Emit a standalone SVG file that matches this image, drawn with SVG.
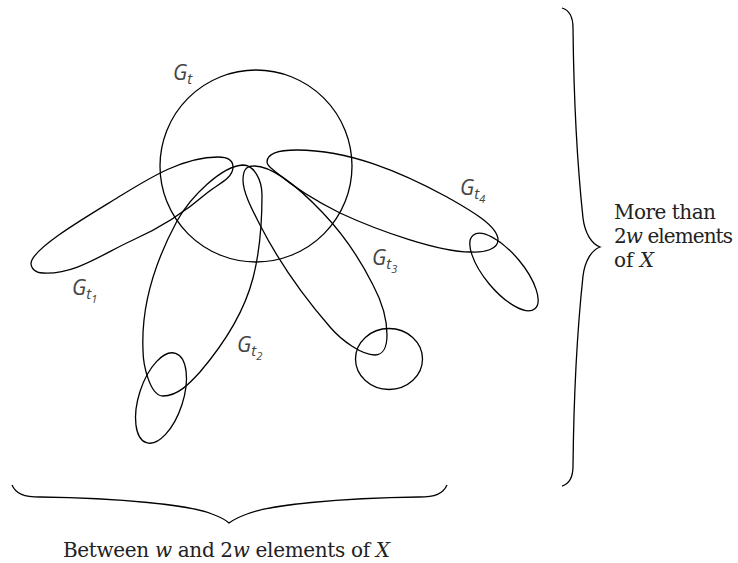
<svg xmlns="http://www.w3.org/2000/svg" width="738" height="563" viewBox="0 0 738 563">
<style>
.ln{fill:none;stroke:#000;stroke-width:1.3}
.lab{font-family:"Open Sans","DejaVu Sans",sans-serif;font-style:italic;font-size:21px;fill:#444}
.txt{font-family:"DejaVu Serif","Liberation Serif",serif;font-size:20px;fill:#222}
.it{font-style:italic}
</style>
<rect width="738" height="563" fill="#fff"/>
<g id="Gt">
<circle class="ln" cx="256" cy="166" r="96"/>
<text class="lab" x="173" y="80">G<tspan font-size="15" dy="4">t</tspan></text>
</g>
<g id="Gt1">
<path class="ln" d="M31,263 C33,248 86,217 117,198 C148,179 182,157 218,157 C227,157 233,160 233,167 C233,179 216,185 207,193 C185,212 160,228 133,240 C104,253 75,275 43,273 C36,273 31,269 31,263 Z"/>
<text class="lab" x="72" y="295">G<tspan font-size="15" dy="4">t</tspan><tspan font-size="11" dy="4">1</tspan></text>
</g>
<g id="Gt2">
<path class="ln" d="M243,165 C254,165 262,180 262,195 C262,223 260,251 253,278 C244,313 223,345 200,372 C190,383 178,396 163,396 C150,396 143,365 143,350 C141,306 156,260 177,221 C191,196 222,166 243,165 Z"/>
<ellipse class="ln" cx="161" cy="398" rx="22" ry="47" transform="rotate(18 161 398)"/>
<text class="lab" x="237" y="352">G<tspan font-size="15" dy="4">t</tspan><tspan font-size="11" dy="4">2</tspan></text>
</g>
<g id="Gt3">
<path class="ln" d="M253,166 C275,165 304,193 323,213 C343,234 360,259 373,285 C381,300 387,318 387,335 C387,347 383,355 375,355 C362,355 342,341 330,327 C303,296 279,262 260,225 C253,211 243,193 243,180 C243,170 246,166 253,166 Z"/>
<ellipse class="ln" cx="389" cy="359" rx="33.5" ry="30.5"/>
<text class="lab" x="372" y="265">G<tspan font-size="15" dy="4">t</tspan><tspan font-size="11" dy="4">3</tspan></text>
</g>
<g id="Gt4">
<path class="ln" d="M267,162 C267,153 280,150 297,150 C349,150 401,172 447,197 C466,208 498,225 498,240 C498,249 485,253 470,252 C440,252 381,232 340,213 C318,202 296,189 277,173 C271,168 267,166 267,162 Z"/>
<ellipse class="ln" cx="504" cy="272" rx="48" ry="19" transform="rotate(50 504 272)"/>
<text class="lab" x="460" y="195">G<tspan font-size="15" dy="4">t</tspan><tspan font-size="11" dy="4">4</tspan></text>
</g>
<g id="connectors">
<path class="ln" d="M562,8 C569,10 573,17 573,28 C574,120 580,190 583,218 C585,234 592,244 600,247 C592,250 585,260 583,276 C580,304 574,374 573,466 C573,477 569,484 562,486"/>
<path class="ln" d="M12,485 C16,494 24,497 40,497 C120,498 190,505 212,514 C220,517 226,520 229,523 C233,520 239,517 247,514 C269,505 339,498 419,497 C435,497 443,494 447,485"/>
</g>
<g id="right-label">
<text class="txt" x="614" y="219" textLength="102">More than</text>
<text class="txt" x="614" y="243" textLength="119">2<tspan class="it">w</tspan> elements</text>
<text class="txt" x="614" y="267">of <tspan class="it">X</tspan></text>
</g>
<g id="bottom-label">
<text class="txt" x="226.5" y="557" text-anchor="middle" textLength="327">Between <tspan class="it">w</tspan> and 2<tspan class="it">w</tspan> elements of <tspan class="it">X</tspan></text>
</g>
</svg>
